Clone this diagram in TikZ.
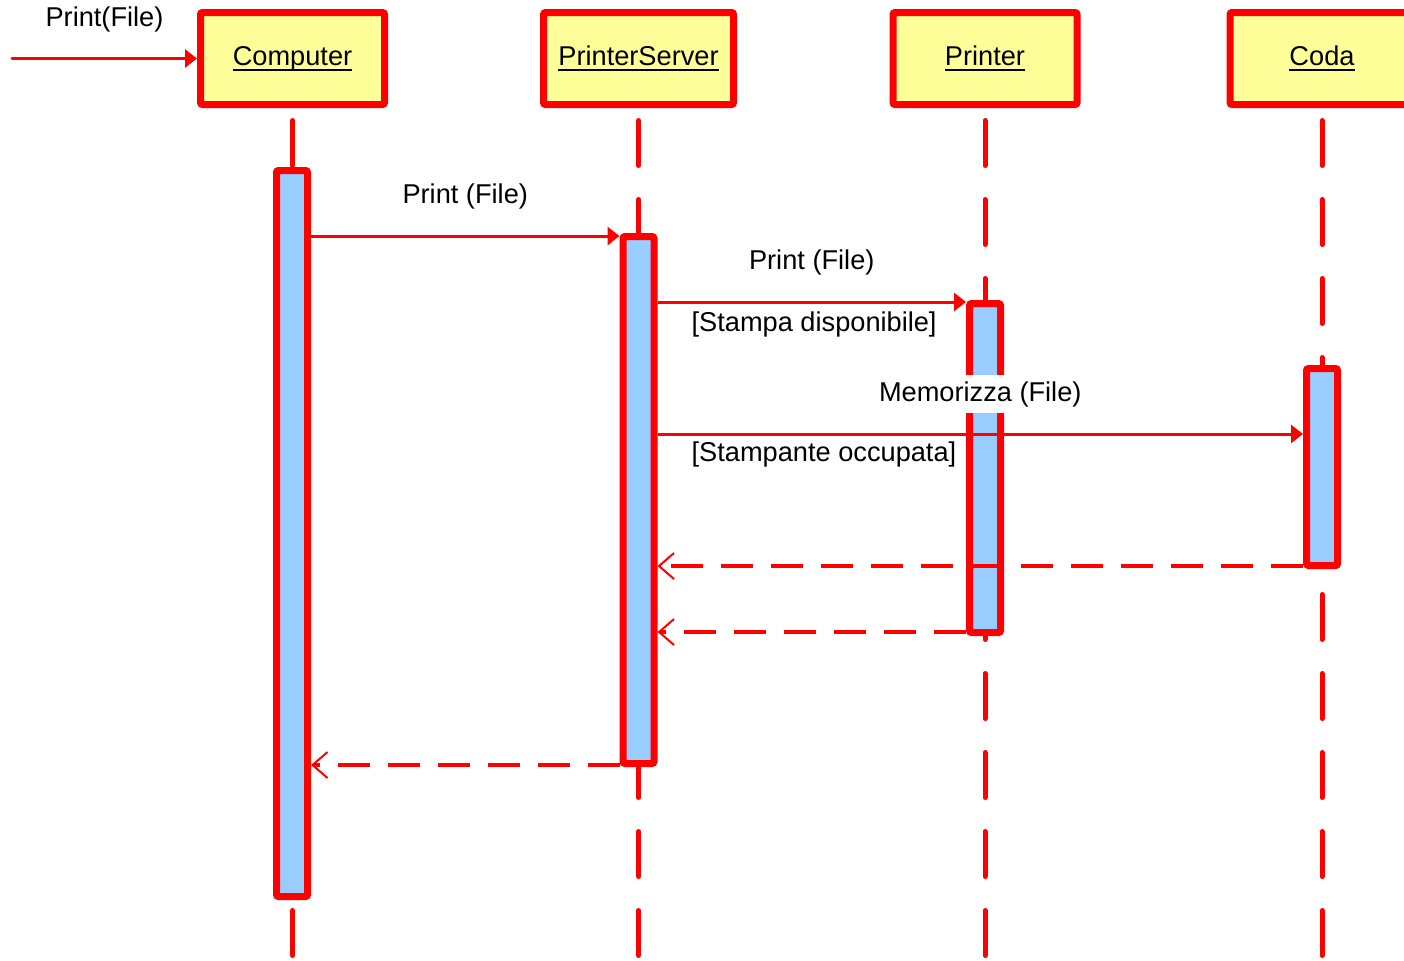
\documentclass[tikz,border=0pt]{standalone}
\usepackage{fontspec}
\setmainfont{Liberation Sans}
\usepackage{tikz}
\usetikzlibrary{arrows.meta, positioning}
\definecolor{hdryellow}{HTML}{FFFF99}
\definecolor{actblue}{HTML}{99CCFF}
\newcommand{\hdr}[1]{\setbox0\hbox{#1}\rlap{\copy0}\rule[-3pt]{\wd0}{1.1pt}}

\tikzset{
  header/.style={draw=red, line width=3.5pt, fill=hdryellow, rounded corners=1pt,
    minimum width=92pt, minimum height=46pt},
  lifeline/.style={red, line width=2.5pt, line cap=round, dash pattern=on 22.5pt off 17pt},
  actbar/.style={draw=red, line width=3.5pt, fill=actblue, rounded corners=1pt,
    minimum width=15.5pt, inner sep=0pt, anchor=north},
  msg/.style={red, text=black, line width=1.5pt, -{Triangle[length=6pt,width=9pt]}},
  reply/.style={red, line width=2pt, dash pattern=on 16pt off 9pt,
    -{Straight Barb[length=7.5pt,width=13pt,line width=1pt]}},
}

\begin{document}
\begin{tikzpicture}[x=0.5pt, y=-0.5pt, font=\fontsize{13.6}{16}\selectfont]
  \useasboundingbox (0,0) rectangle (1404,960);

  % objects
  \node[header] (computer) at (292.5,58.5) {\hdr{Computer}};
  \node[header, minimum width=95pt] (server) at (638.5,58.5) {\hdr{PrinterServer}};
  \node[header] (printer) at (985,58.5) {\hdr{Printer}};
  \node[header] (coda) at (1322,58.5) {\hdr{Coda}};

  % lifelines
  \coordinate (bottom) at (0,960);
  \foreach \obj in {computer,server,printer,coda}
    \draw[lifeline] ([yshift=-6.25pt]\obj.south) -- (\obj.south |- bottom);

  % activations
  \node[actbar, minimum height=363pt] (compAct) at (292,167) {};
  \node[actbar, minimum height=263.5pt] (srvAct) at (638.5,233) {};
  \node[actbar, minimum height=164.5pt] (prnAct) at (985,300) {};
  \node[actbar, minimum height=98.5pt] (codaAct) at (1322,365) {};

  % messages
  \coordinate (in) at (12,58.5);
  \coordinate (m1) at (0,236);
  \coordinate (m2) at (0,302);
  \coordinate (m3) at (0,434);
  \coordinate (m4) at (0,566);
  \coordinate (m5) at (0,632);
  \coordinate (m6) at (0,765);

  \draw[msg, line cap=round] (in) -- (computer.west)
    node[midway, yshift=19.5pt] (lblIn) {Print(File)};
  \draw[msg] (compAct.east |- m1) -- (srvAct.west |- m1)
    node[midway, yshift=20pt] (lblM1) {Print (File)};
  \draw[msg] (srvAct.east |- m2) -- (prnAct.west |- m2)
    node[midway, yshift=20pt] (lblM2) {Print (File)}
    node[pos=0, anchor=west, xshift=13pt, yshift=-11pt] (grdM2) {[Stampa disponibile]};
  \draw[msg] (srvAct.east |- m3) -- (codaAct.west |- m3)
    node[midway, yshift=20pt, fill=white] (lblM3) {Memorizza (File)}
    node[pos=0, anchor=west, xshift=13pt, yshift=-10pt] (grdM3) {[Stampante occupata]};

  % replies
  \draw[reply] (codaAct.west |- m4) -- (srvAct.east |- m4);
  \draw[reply] (prnAct.west |- m5) -- (srvAct.east |- m5);
  \draw[reply] (srvAct.west |- m6) -- (compAct.east |- m6);
\end{tikzpicture}
\end{document}
